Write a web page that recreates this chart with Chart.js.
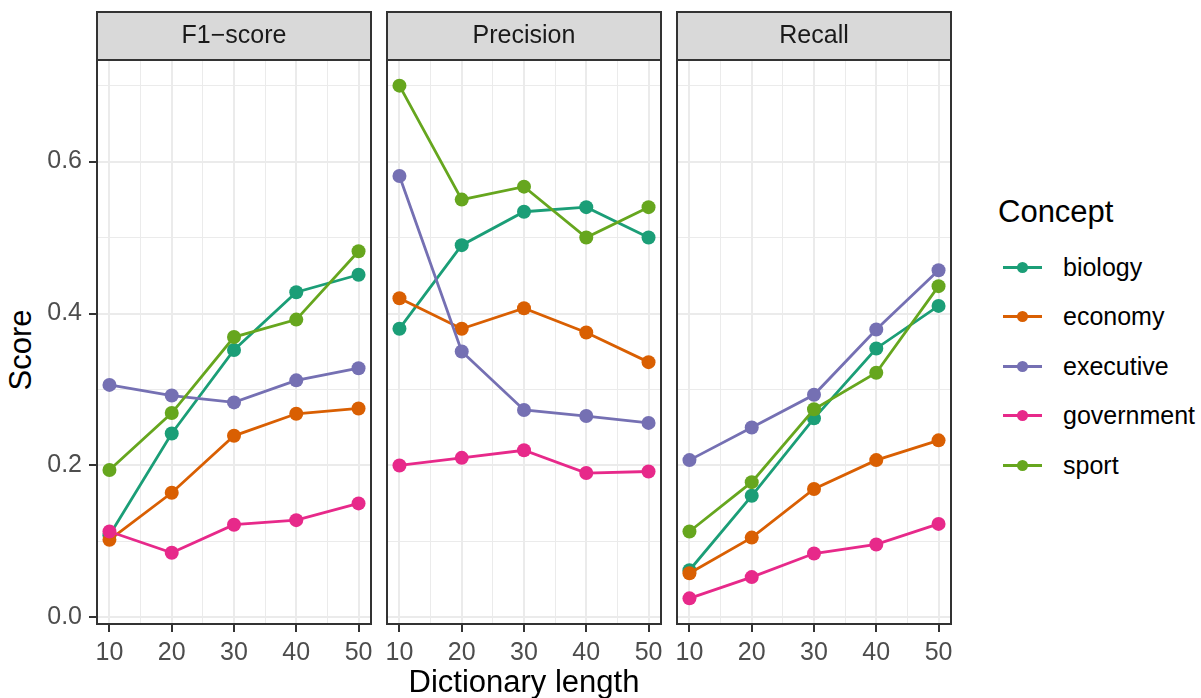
<!DOCTYPE html>
<html>
<head>
<meta charset="utf-8">
<script src="https://cdn.jsdelivr.net/npm/chart.js@4.4.1/dist/chart.umd.min.js"></script>
<style>
  body { margin: 0; background: #fff; font-family: "Liberation Sans", Arial, sans-serif; }
  #wrap { position: relative; width: 1201px; height: 698px; overflow: hidden; }
  #wrap canvas { position: absolute; top: 0; }
  #ytitle { position: absolute; left: -79px; top: 332px; width: 200px; height: 36px; line-height: 36px;
            font-size: 31px; text-align: center; color: #000; transform: rotate(-90deg); }
  #legendTitle { position: absolute; left: 998px; top: 194px; font-size: 31px; line-height: 36px; color: #000; }
  #legend { position: absolute; left: 1003px; top: 242.5px; }
  .item { height: 49.5px; display: flex; align-items: center; font-size: 25px; color: #000; }
  .key { position: relative; width: 39px; height: 3px; margin-right: 21px; }
  .key i { position: absolute; left: 14px; top: -4px; width: 11px; height: 11px; border-radius: 50%; }
</style>
</head>
<body>
<div id="wrap">
  <div id="ytitle">Score</div>
  <div id="legendTitle">Concept</div>
  <div id="legend"></div>
</div>
<script>
const concepts = ["biology", "economy", "executive", "government", "sport"];
const conceptColors = ["#1B9E77", "#D95F02", "#7570B3", "#E7298A", "#66A61E"];
const metrics = ["F1\u2212score", "Precision", "Recall"];
const dictLengths = [10, 20, 30, 40, 50];

// one row per concept, same order as concepts
const f1Values = [
    [0.108, 0.242, 0.352, 0.428, 0.451],
    [0.102, 0.164, 0.239, 0.268, 0.275],
    [0.306, 0.292, 0.283, 0.312, 0.328],
    [0.113, 0.085, 0.122, 0.128, 0.150],
    [0.194, 0.269, 0.369, 0.392, 0.482]
];
const precisionValues = [
    [0.380, 0.490, 0.534, 0.540, 0.500],
    [0.420, 0.380, 0.407, 0.375, 0.336],
    [0.581, 0.350, 0.273, 0.265, 0.256],
    [0.200, 0.210, 0.220, 0.190, 0.192],
    [0.700, 0.550, 0.567, 0.500, 0.540]
];
const recallValues = [
    [0.062, 0.160, 0.262, 0.354, 0.410],
    [0.058, 0.105, 0.169, 0.207, 0.233],
    [0.207, 0.250, 0.293, 0.379, 0.457],
    [0.025, 0.053, 0.084, 0.096, 0.123],
    [0.113, 0.178, 0.274, 0.322, 0.436]
];

const xMinorTicks = [15, 25, 35, 45];
const yMajorTicks = [0, 0.2, 0.4, 0.6];
const yTickLabels = ["0.0", "0.2", "0.4", "0.6"];
const yMinorTicks = [0.1, 0.3, 0.5, 0.7];

const FONT = '"Liberation Sans", Arial, sans-serif';
const AXIS_W = 97, PANEL_W = 274, STRIP_TOP = 12, PLOT_TOP = 60, XAXIS_H = 74;
const panelLefts = [97, 387, 677];

// ggplot-style 5% expansion of the data range
const allValues = [].concat(...f1Values, ...precisionValues, ...recallValues);
const yLo = Math.min(...allValues), yHi = Math.max(...allValues);
const yMin = yLo - (yHi - yLo) * 0.05, yMax = yHi + (yHi - yLo) * 0.05;
const xLo = Math.min(...dictLengths), xHi = Math.max(...dictLengths);
const xMin = xLo - (xHi - xLo) * 0.05, xMax = xHi + (xHi - xLo) * 0.05;

const isIn = (arr, v) => arr.some(t => Math.abs(t - v) < 1e-9);

// facet strip on top + dark panel border
const stripPlugin = {
    id: "strip",
    afterDraw(chart, args, opts) {
        const { ctx, chartArea: a } = chart;
        ctx.save();
        ctx.fillStyle = "#D9D9D9";
        ctx.fillRect(a.left, STRIP_TOP, a.right - a.left, a.top - STRIP_TOP);
        ctx.strokeStyle = "#333333";
        ctx.lineWidth = 2;
        ctx.strokeRect(a.left, STRIP_TOP, a.right - a.left, a.top - STRIP_TOP);
        ctx.strokeRect(a.left, a.top, a.right - a.left, a.bottom - a.top);
        ctx.fillStyle = "#1A1A1A";
        ctx.font = "25px " + FONT;
        ctx.textAlign = "center";
        ctx.textBaseline = "middle";
        ctx.fillText(opts.text, (a.left + a.right) / 2, (STRIP_TOP + a.top) / 2);
        ctx.restore();
    }
};

function makePanel(i, values) {
    let wrap = document.getElementById("wrap");
    let canvas = document.createElement("canvas");
    canvas.width = AXIS_W + PANEL_W + 4;
    canvas.height = 698;
    canvas.style.left = (panelLefts[i] - AXIS_W) + "px";
    wrap.appendChild(canvas);
    let first = i === 0;

    new Chart(canvas, {
        type: "line",
        data: {
            datasets: concepts.map((c, k) => ({
                label: c,
                data: dictLengths.map((x, j) => ({ x: x, y: values[k][j] })),
                borderColor: conceptColors[k],
                backgroundColor: conceptColors[k],
                pointBackgroundColor: conceptColors[k],
                borderWidth: 2.8,
                pointRadius: 7,
                pointBorderWidth: 0,
                tension: 0,
                order: concepts.length - k
            }))
        },
        options: {
            responsive: false,
            animation: false,
            events: [],
            devicePixelRatio: 1,
            layout: { autoPadding: false, padding: { top: PLOT_TOP, right: 4, bottom: 0, left: 0 } },
            plugins: {
                legend: { display: false },
                tooltip: { enabled: false },
                strip: { text: metrics[i] }
            },
            scales: {
                x: {
                    type: "linear",
                    min: xMin,
                    max: xMax,
                    afterBuildTicks: s => {
                        s.ticks = dictLengths.concat(xMinorTicks).sort((a, b) => a - b).map(v => ({ value: v }));
                    },
                    afterFit: s => {
                        s.height = XAXIS_H;
                        s.paddingLeft = 0;
                        s.paddingRight = 0;
                    },
                    ticks: {
                        autoSkip: false,
                        maxRotation: 0,
                        padding: 6,
                        color: "#4D4D4D",
                        font: { size: 25, family: FONT },
                        callback: v => isIn(dictLengths, v) ? String(v) : ""
                    },
                    grid: {
                        color: "#EBEBEB",
                        lineWidth: c => isIn(dictLengths, c.tick.value) ? 2 : 1,
                        tickLength: 8,
                        tickWidth: 2,
                        tickColor: c => isIn(dictLengths, c.tick.value) ? "#333333" : "rgba(0,0,0,0)"
                    },
                    border: { display: false },
                    title: {
                        display: i === 1,
                        text: "Dictionary length",
                        color: "#000",
                        font: { size: 31, family: FONT },
                        padding: { top: 0, bottom: -4 }
                    }
                },
                y: {
                    type: "linear",
                    min: yMin,
                    max: yMax,
                    afterBuildTicks: s => {
                        s.ticks = yMajorTicks.concat(yMinorTicks).sort((a, b) => a - b).map(v => ({ value: v }));
                    },
                    afterFit: s => { s.width = AXIS_W; },
                    ticks: {
                        display: first,
                        padding: 7,
                        color: "#4D4D4D",
                        font: { size: 25, family: FONT },
                        callback: v => {
                            let k = yMajorTicks.findIndex(t => Math.abs(t - v) < 1e-9);
                            return k >= 0 ? yTickLabels[k] : "";
                        }
                    },
                    grid: {
                        color: "#EBEBEB",
                        lineWidth: c => isIn(yMajorTicks, c.tick.value) ? 2 : 1,
                        drawTicks: first,
                        tickLength: 8,
                        tickWidth: 2,
                        tickColor: c => isIn(yMajorTicks, c.tick.value) ? "#333333" : "rgba(0,0,0,0)"
                    },
                    border: { display: false }
                }
            }
        },
        plugins: [stripPlugin]
    });
}

makePanel(0, f1Values);
makePanel(1, precisionValues);
makePanel(2, recallValues);

// Legend
let legend = document.getElementById("legend");
concepts.forEach((c, k) => {
    let row = document.createElement("div");
    row.className = "item";
    row.innerHTML = `<span class="key" style="background:${conceptColors[k]}"><i style="background:${conceptColors[k]}"></i></span><span>${c}</span>`;
    legend.appendChild(row);
});
</script>
</body>
</html>
